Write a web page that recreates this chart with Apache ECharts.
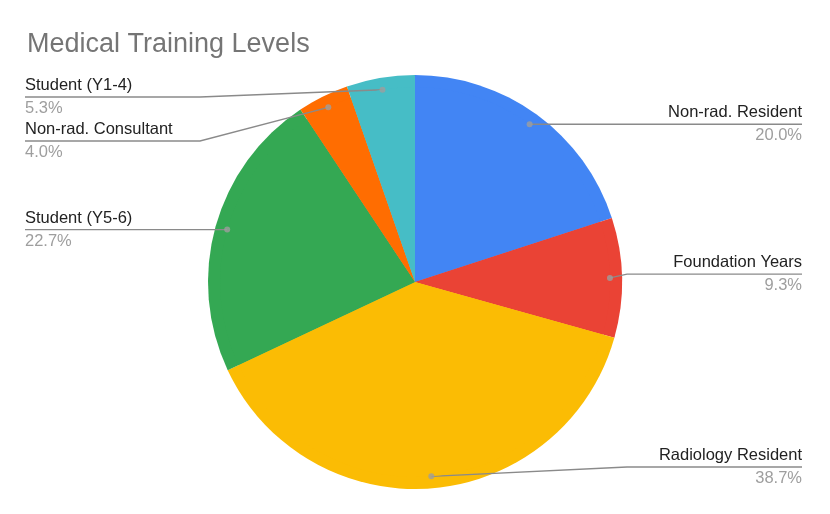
<!DOCTYPE html>
<html>
<head>
<meta charset="utf-8">
<script src="https://cdn.jsdelivr.net/npm/echarts@6/dist/echarts.min.js"></script>
<style>
  html, body { margin: 0; padding: 0; background: #fff; }
  #chart { width: 830px; height: 514px; }
</style>
</head>
<body>
<div id="chart"></div>
<script>
// slice data, clockwise from 12 o'clock
const categories = ['Non-rad. Resident', 'Foundation Years', 'Radiology Resident', 'Student (Y5-6)', 'Non-rad. Consultant', 'Student (Y1-4)'];
const counts = [15, 7, 29, 17, 3, 4];
const colors = ['#4285F4', '#EA4335', '#FBBC04', '#34A853', '#FF6D01', '#46BDC6'];

const total = counts.reduce((a, b) => a + b, 0);
// mid angle of each slice (in data units) for the leader dots
const mids = [];
let acc = 0;
counts.forEach(v => { mids.push(acc + v / 2); acc += v; });

const pieData = categories.map((name, i) => ({ name: name, value: counts[i], itemStyle: { color: colors[i] } }));

const chart = echarts.init(document.getElementById('chart'));
chart.setOption({
  animation: false,
  textStyle: { fontFamily: 'Liberation Sans, Arial, sans-serif' },
  title: {
    text: 'Medical Training Levels',
    left: 27,
    top: 31,
    padding: 0,
    textStyle: { fontSize: 27, fontWeight: 'normal', color: '#757575' }
  },
  polar: { center: [415, 282], radius: 207 },
  angleAxis: { type: 'value', min: 0, max: total, startAngle: 90, clockwise: true, show: false },
  radiusAxis: { type: 'value', min: 0, max: 1, show: false },
  series: [
    {
      // the visible pie
      type: 'pie',
      left: 25, right: 28, top: 75, bottom: 25,
      center: [390, '50%'],
      radius: 207,
      startAngle: 90,
      clockwise: true,
      silent: true,
      z: 1,
      label: { show: false },
      labelLine: { show: false },
      data: pieData
    },
    {
      // transparent copy, only for the labels and leader lines
      type: 'pie',
      left: 25, right: 28, top: 75, bottom: 25,
      center: [390, '50%'],
      radius: 195,
      startAngle: 90,
      clockwise: true,
      silent: true,
      z: 5,
      itemStyle: { color: 'rgba(0,0,0,0)' },
      label: {
        show: true,
        position: 'outside',
        alignTo: 'edge',
        edgeDistance: 0,
        minMargin: 4,
        formatter: p => '{n|' + p.name + '}\n{p|' + (p.value / total * 100).toFixed(1) + '%}',
        rich: {
          n: { fontSize: 16.5, color: '#222222', lineHeight: 23 },
          p: { fontSize: 16.5, color: '#9e9e9e', lineHeight: 23 }
        }
      },
      labelLine: {
        show: true,
        length: 0,
        length2: 20,
        lineStyle: { color: '#8a8a8a', width: 1.3 }
      },
      labelLayout: function (params) {
        const r = params.labelRect;
        const p0 = params.labelLinePoints[0];
        const isLeft = p0[0] > r.x + r.width / 2;
        const y = r.y + r.height / 2;
        const far = isLeft ? r.x : r.x + r.width;
        const bend = isLeft ? far + 175 : far - 175;
        return { labelLinePoints: [p0, [bend, y], [far, y]] };
      },
      data: pieData
    },
    {
      // leader line dots
      type: 'scatter',
      coordinateSystem: 'polar',
      symbol: 'circle',
      symbolSize: 6,
      silent: true,
      z: 10,
      itemStyle: { color: '#9e9e9e' },
      data: mids.map(m => [0.942, m])
    }
  ]
});
</script>
</body>
</html>
